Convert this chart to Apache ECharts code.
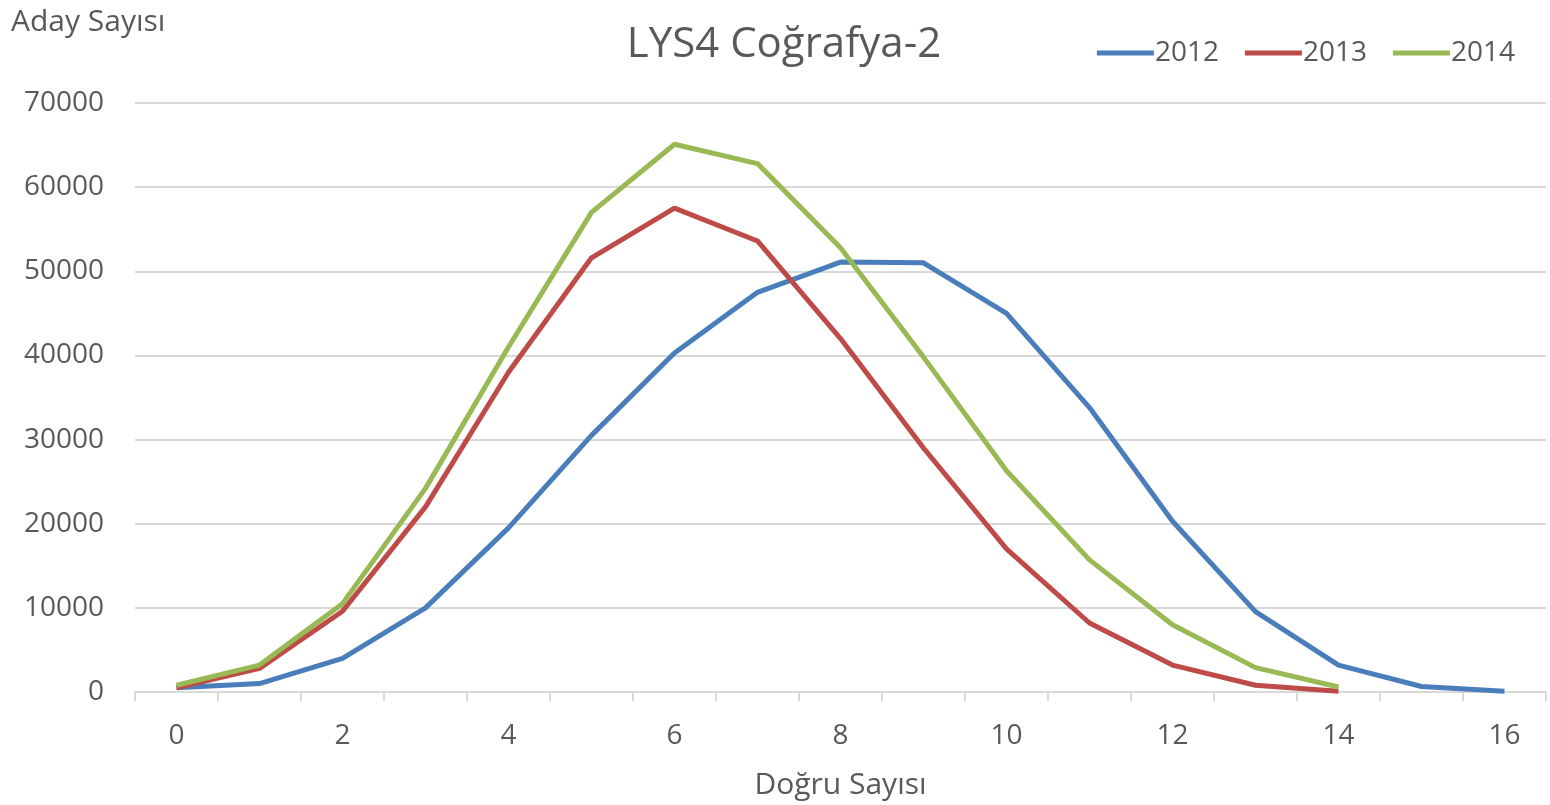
<!DOCTYPE html>
<html>
<head>
<meta charset="utf-8">
<script src="https://cdn.jsdelivr.net/npm/echarts@6/dist/echarts.min.js"></script>
<style>
  html, body { margin: 0; padding: 0; background: #fff; }
  #main { width: 1550px; height: 805px; }
</style>
</head>
<body>
<div id="main"></div>
<script>
// Doğru sayısı (x ekseni)
var categories = ["0", "1", "2", "3", "4", "5", "6", "7", "8", "9", "10", "11", "12", "13", "14", "15", "16"];
var years = ["2012", "2013", "2014"];
var data2012 = [500, 1000, 4000, 10000, 19500, 30500, 40300, 47500, 51100, 51000, 45000, 33800, 20300, 9550, 3200, 650, 100];
var data2013 = [500, 2800, 9600, 22000, 38000, 51600, 57500, 53600, 42000, 29000, 17000, 8200, 3200, 800, 100];
var data2014 = [800, 3200, 10500, 24200, 41000, 57000, 65100, 62800, 52800, 39800, 26300, 15700, 8000, 2900, 600];
var colors = ["#4a7ebb", "#be4b48", "#98b954"];

var chart = echarts.init(document.getElementById("main"));
var textColor = "#595959";
var font = "'Open Sans', 'Noto Sans', sans-serif";

function lineSeries(name, data, i) {
  return {
    name: name,
    type: "line",
    data: data,
    symbol: "none",
    smooth: false,
    lineStyle: { width: 5, color: colors[i] },
    itemStyle: { color: colors[i] }
  };
}

var option = {
  animation: false,
  color: colors,
  textStyle: { fontFamily: font },
  title: {
    text: "LYS4 Coğrafya-2",
    left: 779,
    top: 19,
    textAlign: "center",
    textStyle: { color: textColor, fontSize: 42, fontWeight: "normal", fontFamily: font }
  },
  legend: {
    data: years,
    right: 30,
    top: 34,
    itemWidth: 57,
    itemHeight: 5,
    itemGap: 26,
    icon: "rect",
    textStyle: { color: textColor, fontSize: 28, fontFamily: font, padding: [0, 0, 0, -4] }
  },
  grid: {
    left: 135,
    right: 4,
    top: 103,
    bottom: 113,
    containLabel: false
  },
  xAxis: {
    type: "category",
    data: categories,
    boundaryGap: true,
    name: "Doğru Sayısı",
    nameLocation: "middle",
    nameGap: 78,
    nameTextStyle: { color: textColor, fontSize: 30, fontFamily: font },
    axisLine: { lineStyle: { color: "#d9d9d9", width: 2 } },
    axisTick: { show: true, interval: 0, length: 9, lineStyle: { color: "#d9d9d9", width: 2 } },
    axisLabel: { interval: 1, color: textColor, fontSize: 28, margin: 30, fontFamily: font },
    splitLine: { show: false }
  },
  yAxis: {
    type: "value",
    min: 0,
    max: 70000,
    interval: 10000,
    axisLine: { show: false },
    axisTick: { show: false },
    axisLabel: {
      color: textColor, fontSize: 28, margin: 31, fontFamily: font,
      formatter: function (v) { return String(v); }
    },
    splitLine: { lineStyle: { color: "#d9d9d9", width: 2 } }
  },
  graphic: [
    {
      type: "text",
      left: 11,
      top: 7,
      style: { text: "Aday Sayısı", fill: textColor, fontSize: 30, fontFamily: font }
    }
  ],
  series: [
    lineSeries(years[0], data2012, 0),
    lineSeries(years[1], data2013, 1),
    lineSeries(years[2], data2014, 2)
  ]
};

chart.setOption(option);
</script>
</body>
</html>
